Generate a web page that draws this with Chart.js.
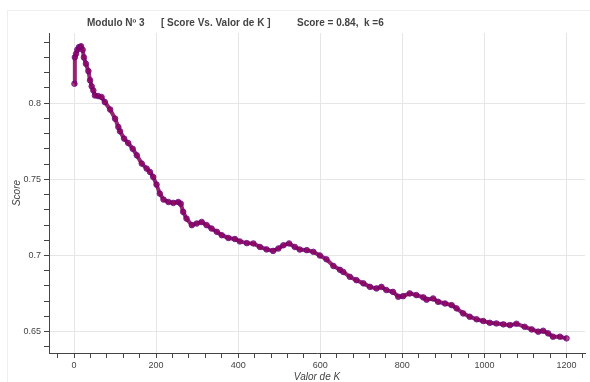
<!DOCTYPE html>
<html>
<head>
<meta charset="utf-8">
<script src="https://cdn.jsdelivr.net/npm/chart.js@4.4.1/dist/chart.umd.min.js"></script>
<style>
  html, body { margin: 0; padding: 0; background: #fff; overflow: hidden; }
  #wrap { width: 590px; height: 382px; position: relative; }
</style>
</head>
<body>
<div id="wrap"><canvas id="scoreChart"></canvas></div>
<script>
// Score vs K values
const kValues = [1, 2, 5, 8, 12, 17, 21, 24, 29, 35, 39, 43, 47, 51, 59, 67, 75, 88, 100, 108,
    112, 122, 132, 143, 153, 165, 177, 185, 193, 201, 209, 218, 230, 242, 254, 260, 266, 274, 287, 299,
    311, 323, 335, 348, 360, 376, 392, 404, 421, 437, 453, 469, 485, 498, 510, 524, 538, 550, 567, 583,
    599, 615, 632, 648, 656, 672, 688, 705, 721, 737, 749, 761, 777, 790, 802, 818, 834, 851, 859, 875,
    887, 904, 920, 932, 948, 964, 981, 997, 1013, 1029, 1046, 1062, 1078, 1098, 1115, 1131, 1143, 1155, 1167, 1184,
    1200];
const scores = [0.8127, 0.8301, 0.8324, 0.835, 0.8367, 0.8373, 0.835, 0.830, 0.8258, 0.821, 0.815, 0.811, 0.8083, 0.805, 0.8046, 0.804, 0.8007, 0.7958, 0.7898, 0.7843,
    0.7815, 0.7767, 0.7738, 0.770, 0.7657, 0.7603, 0.757, 0.7548, 0.7515, 0.7465, 0.7406, 0.7367, 0.7351, 0.7345, 0.7351, 0.734, 0.7286, 0.7242, 0.7199, 0.721,
    0.722, 0.7199, 0.7177, 0.7155, 0.7133, 0.7115, 0.7108, 0.7092, 0.7081, 0.7079, 0.7056, 0.704, 0.703, 0.7046, 0.7067, 0.7079, 0.7056, 0.7039, 0.7035, 0.7024,
    0.700, 0.6975, 0.6931, 0.6906, 0.6892, 0.686, 0.6838, 0.6817, 0.6794, 0.6784, 0.6794, 0.6773, 0.6761, 0.6729, 0.6733, 0.6751, 0.674, 0.6725, 0.671, 0.6718,
    0.6696, 0.6685, 0.6674, 0.6653, 0.662, 0.6598, 0.6581, 0.657, 0.6558, 0.6554, 0.6548, 0.6543, 0.6552, 0.6532, 0.6515, 0.650, 0.6506, 0.6489, 0.6467, 0.6467,
    0.6456];

const xMajorTicks = [0, 200, 400, 600, 800, 1000, 1200];
const yMajorTicks = [0.65, 0.7, 0.75, 0.8];
const titleParts = ["Modulo Nº 3", "[ Score Vs. Valor de K ]", "Score = 0.84,  k =6"];

Chart.defaults.font.family = "'Liberation Sans', Arial, sans-serif";
Chart.defaults.color = "#444";

const isMajorX = v => xMajorTicks.includes(Math.round(v));
const isMajorY = v => yMajorTicks.some(t => Math.abs(t - v) < 1e-6);

// ticks menores como en bokeh (5 por cada mayor)
function minorTicks(majors, lo, hi) {
    const step = (majors[1] - majors[0]) / 5;
    const out = [];
    const start = majors[0] - 5 * step;
    for (let i = 0; i < (majors.length + 2) * 5; i++) {
        const v = +(start + i * step).toFixed(6);
        if (v >= lo && v <= hi) out.push({ value: v });
    }
    return out;
}

// titulo a mano, bokeh lo pone corrido a la derecha
const titlePlugin = {
    id: "bokehTitle",
    beforeDraw(chart) {
        const c = chart.ctx;
        c.save();
        c.fillStyle = "#fff";
        c.fillRect(0, 0, chart.width, chart.height);
        c.strokeStyle = "#eeeeee";
        c.lineWidth = 1;
        c.strokeRect(7.5, 10.5, chart.width, chart.height);
        c.restore();
    },
    afterDraw(chart) {
        const c = chart.ctx;
        c.save();
        c.font = "bold 10px 'Liberation Sans', Arial, sans-serif";
        c.fillStyle = "#444";
        c.textBaseline = "middle";
        const xs = [87, 161, 297];
        titleParts.forEach((t, i) => c.fillText(t, xs[i], 23));
        c.restore();
    }
};

const ctx = document.getElementById("scoreChart").getContext("2d");
new Chart(ctx, {
    type: "line",
    data: {
        datasets: [{
            label: "Score",
            data: kValues.map((k, i) => ({ x: k, y: scores[i] })),
            borderColor: "rgba(135, 0, 85, 0.85)",
            borderWidth: 4,
            pointRadius: 2.8,
            pointBackgroundColor: "rgba(140, 0, 90, 0.7)",
            pointBorderColor: "rgba(100, 0, 130, 0.75)",
            pointBorderWidth: 1,
            tension: 0
        }]
    },
    options: {
        responsive: true,
        maintainAspectRatio: false,
        animation: false,
        devicePixelRatio: 1,
        layout: { padding: { top: 33, right: 0, left: 0, bottom: 0 } },
        plugins: {
            legend: { display: false },
            tooltip: { enabled: false }
        },
        scales: {
            x: {
                type: "linear",
                min: -61,
                max: 1245,
                afterFit: s => { s.height = 29; s.paddingLeft = 0; s.paddingRight = 0; },
                afterBuildTicks: s => { s.ticks = minorTicks(xMajorTicks, s.min, s.max); },
                ticks: {
                    autoSkip: false,
                    maxRotation: 0,
                    padding: 2,
                    font: { size: 9 },
                    color: "#444",
                    callback: v => isMajorX(v) ? String(Math.round(v)) : ""
                },
                grid: {
                    color: c => (c.tick && isMajorX(c.tick.value)) ? "#e6e6e6" : "rgba(0,0,0,0)",
                    tickColor: "#444",
                    tickLength: 5
                },
                border: { color: "#444", width: 1 },
                title: {
                    display: true,
                    text: "Valor de K",
                    font: { size: 10, style: "italic", lineHeight: 1 },
                    padding: { top: 0, bottom: 0 },
                    color: "#444"
                }
            },
            y: {
                min: 0.636,
                max: 0.846,
                afterFit: s => { s.width = 49; s.paddingTop = 0; s.paddingBottom = 0; },
                afterBuildTicks: s => { s.ticks = minorTicks(yMajorTicks, s.min, s.max); },
                ticks: {
                    autoSkip: false,
                    padding: 3,
                    font: { size: 9 },
                    color: "#444",
                    callback: v => isMajorY(v) ? String(parseFloat(v.toFixed(2))) : ""
                },
                grid: {
                    color: c => (c.tick && isMajorY(c.tick.value)) ? "#e6e6e6" : "rgba(0,0,0,0)",
                    tickColor: "#444",
                    tickLength: 5
                },
                border: { color: "#444", width: 1 },
                title: {
                    display: true,
                    text: "Score",
                    font: { size: 10, style: "italic", lineHeight: 1 },
                    padding: { top: 12, bottom: 0 },
                    color: "#444"
                }
            }
        }
    },
    plugins: [titlePlugin]
});
</script>
</body>
</html>
